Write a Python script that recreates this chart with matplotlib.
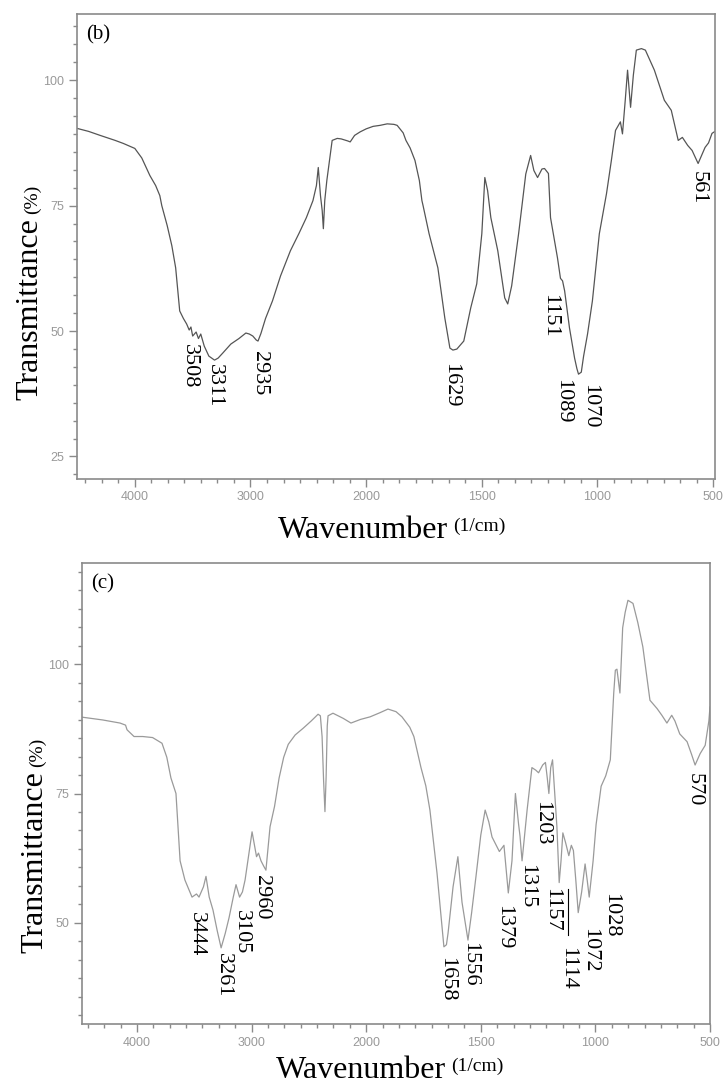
import numpy as np
import matplotlib
matplotlib.use('Agg')
import matplotlib.pyplot as plt
from matplotlib.ticker import FixedLocator, MultipleLocator, AutoMinorLocator

W, H = 725, 1086

# ---- spectrum (b) ----
wn_b = [4500, 4400, 4300, 4170, 4100, 4000, 3940, 3870, 3820, 3784, 3767, 3720,
        3680, 3647, 3612, 3580, 3552, 3530, 3515, 3500, 3470, 3450, 3430, 3400,
        3360, 3311, 3280, 3240, 3170, 3100, 3040, 3010, 2980, 2950, 2935, 2910,
        2870, 2810, 2740, 2655, 2580, 2517, 2460, 2430, 2414, 2395, 2380, 2370,
        2358, 2340, 2294, 2250, 2216, 2160, 2138, 2100, 2052, 2000, 1970, 1940,
        1909, 1880, 1866, 1840, 1828, 1810, 1789, 1770, 1759, 1754, 1728, 1690,
        1660, 1638, 1625, 1608, 1578, 1548, 1522, 1500, 1487, 1475, 1461, 1431,
        1401, 1388, 1371, 1341, 1310, 1289, 1275, 1259, 1240, 1229, 1212, 1203,
        1173, 1160, 1151, 1142, 1121, 1099, 1089, 1082, 1070, 1060, 1043, 1022,
        992, 961, 940, 922, 901, 892, 880, 870, 857, 845, 832, 810, 793, 754,
        711, 681, 651, 633, 610, 591, 565, 550, 535, 520, 505, 492]
t_b = [90.4, 89.8, 89.0, 88.0, 87.4, 86.4, 84.5, 81.0, 79.0, 77.0, 75.0, 71.0,
       67.0, 62.6, 54.0, 52.5, 51.4, 50.2, 50.8, 49.0, 49.8, 48.5, 49.4, 47.0,
       45.0, 44.2, 44.6, 45.6, 47.4, 48.5, 49.6, 49.4, 49.0, 48.2, 48.0, 49.5,
       52.5, 56.0, 61.0, 66.0, 69.5, 72.6, 76.0, 79.0, 82.6, 77.0, 74.0, 70.4,
       76.0, 80.0, 88.0, 88.4, 88.3, 87.9, 87.7, 89.0, 89.7, 90.3, 90.8, 91.0,
       91.3, 91.2, 91.0, 89.5, 88.0, 86.5, 84.0, 80.0, 76.0, 75.0, 69.4, 62.6,
       52.6, 46.6, 46.2, 46.4, 48.0, 54.6, 59.4, 69.4, 80.6, 78.0, 72.6, 66.0,
       56.6, 55.4, 59.0, 69.4, 81.3, 85.0, 82.0, 80.6, 82.3, 82.4, 81.4, 72.6,
       64.6, 60.5, 60.0, 58.0, 50.6, 44.6, 42.5, 41.4, 41.8, 45.0, 49.4, 56.0,
       69.4, 77.4, 84.0, 90.0, 91.7, 89.3, 96.0, 102.0, 94.6, 101.0, 106.0, 106.3,
       106.0, 102.0, 96.0, 94.0, 88.0, 88.6, 87.0, 86.0, 83.4, 85.0, 86.6, 87.5,
       89.4, 89.8]

# ---- spectrum (c) ----
wn_c = [4500, 4300, 4148, 4100, 4087, 4026, 3950, 3864, 3782, 3740, 3704, 3660,
        3624, 3582, 3520, 3481, 3459, 3420, 3398, 3370, 3337, 3300, 3266, 3230,
        3197, 3160, 3136, 3105, 3080, 3057, 3020, 2996, 2975, 2957, 2940, 2918,
        2895, 2875, 2839, 2800, 2760, 2720, 2680, 2620, 2550, 2480, 2420, 2400,
        2385, 2372, 2360, 2350, 2340, 2333, 2290, 2200, 2133, 2050, 1983, 1940,
        1905, 1870, 1844, 1810, 1792, 1761, 1740, 1722, 1691, 1661, 1650, 1643,
        1621, 1600, 1582, 1556, 1540, 1521, 1500, 1481, 1465, 1451, 1419, 1399,
        1380, 1364, 1349, 1335, 1329, 1320, 1298, 1277, 1260, 1248, 1230, 1218,
        1210, 1203, 1195, 1187, 1168, 1158, 1150, 1142, 1130, 1116, 1105, 1096,
        1085, 1075, 1060, 1045, 1035, 1027, 1010, 997, 975, 955, 935, 920, 913,
        906, 893, 881, 870, 858, 836, 815, 793, 762, 731, 710, 688, 667, 653, 632,
        600, 580, 565, 555, 543, 521, 505, 500]
t_c = [89.8, 89.2, 88.6, 88.2, 87.3, 86.0, 86.0, 85.8, 84.7, 82.0, 78.0, 75.0,
       62.0, 58.3, 55.0, 55.6, 55.0, 57.0, 59.0, 55.0, 52.5, 48.5, 45.2, 48.0,
       51.0, 55.0, 57.4, 55.0, 56.0, 58.3, 64.0, 67.6, 65.0, 62.8, 63.5, 62.0,
       61.0, 60.2, 68.6, 72.5, 78.0, 82.0, 84.5, 86.3, 87.6, 89.0, 90.3, 90.0,
       86.0, 77.6, 71.5, 78.0, 88.0, 90.0, 90.5, 89.5, 88.6, 89.3, 89.8, 90.6,
       91.3, 90.8, 89.8, 87.8, 86.0, 80.0, 76.5, 71.8, 59.6, 45.4, 45.8, 48.0,
       57.0, 62.8, 54.0, 46.7, 52.0, 59.0, 67.0, 71.8, 69.5, 66.6, 63.8, 65.0,
       55.8, 62.0, 75.0, 69.0, 66.8, 62.0, 71.8, 80.0, 79.5, 79.0, 80.5, 81.0,
       78.0, 75.0, 80.0, 81.5, 68.6, 57.8, 62.0, 67.4, 65.5, 63.0, 65.0, 64.0,
       58.0, 52.0, 56.0, 61.4, 58.0, 55.0, 62.0, 69.0, 76.4, 78.4, 81.5, 94.4, 98.8,
       99.0, 94.4, 107.0, 110.0, 112.3, 111.7, 108.0, 103.3, 93.0, 91.4, 90.1, 88.6,
       90.1, 89.0, 86.5, 85.0, 82.5, 80.5, 81.5, 82.7, 84.3, 89.0, 91.7]

# peak labels: text, wavenumber of label, transmittance at label top
peaks_b = ['3508', '3311', '2935', '1629', '1151', '1089', '1070', '561']
peak_wn_b = [3530, 3310, 2922, 1634, 1205, 1151, 1034, 565]
peak_t_b = [47.4, 43.4, 46.0, 43.6, 57.4, 40.4, 39.4, 82.0]

peaks_c = ['3444', '3261', '3105', '2960', '1658', '1556', '1379', '1315',
           '1203', '1157', '1114', '1072', '1028', '570']
peak_wn_c = [3480, 3250, 3092, 2918, 1651, 1551, 1400, 1298, 1233, 1191, 1120,
             1027, 934, 570]
peak_t_c = [52.1, 44.2, 52.5, 59.3, 43.4, 46.3, 53.5, 61.4, 73.6, 56.8, 45.4,
            49.1, 55.8, 79.0]

x_major = [4000, 3000, 2000, 1500, 1000, 500]
x_labels = ['4000', '3000', '2000', '1500', '1000', '500']


def fwd(x):
    x = np.asarray(x, dtype=float)
    return np.where(x > 2000, 2000 + (x - 2000) / 2, x)


def inv(u):
    u = np.asarray(u, dtype=float)
    return np.where(u > 2000, 2000 + (u - 2000) * 2, u)


def minor_ticks():
    ticks = []
    for a, b in zip(x_major[:-1], x_major[1:]):
        ticks += list(np.linspace(a, b, 8)[1:-1])
    ticks += [4000 + k * 1000 / 7 for k in range(1, 4)]
    return ticks


SERIF = 'Liberation Serif'
SANS = 'Liberation Sans'
GRAY = '#8a8a8a'

fig = plt.figure(figsize=(W / 100, H / 100), dpi=100)


def make_panel(rect, wn, t, xlim, ylim, color, tag, labels, lwn, lt):
    ax = fig.add_axes(rect)
    ax.set_xscale('function', functions=(fwd, inv))
    ax.plot(wn, t, color=color, lw=0.9)
    ax.set_xlim(*xlim)
    ax.set_ylim(*ylim)
    ax.xaxis.set_major_locator(FixedLocator(x_major))
    ax.set_xticklabels(x_labels)
    ax.xaxis.set_minor_locator(FixedLocator(minor_ticks()))
    ax.yaxis.set_major_locator(MultipleLocator(25))
    ax.yaxis.set_minor_locator(AutoMinorLocator(7))
    for s in ax.spines.values():
        s.set_color(GRAY)
        s.set_linewidth(1.2)
    ax.tick_params(which='major', direction='out', length=6, width=1,
                   color=GRAY, labelsize=9, labelcolor='#999999', pad=3)
    ax.tick_params(which='minor', direction='out', length=3, width=1, color=GRAY)
    for lab in ax.get_xticklabels() + ax.get_yticklabels():
        lab.set_family(SANS)
    ax.text(0.015, 0.955, tag, transform=ax.transAxes, va='center',
            ha='left', fontsize=15, family=SERIF)
    for s, x, y in zip(labels, lwn, lt):
        ax.text(x, y, s, rotation=-90, rotation_mode='anchor', ha='left',
                va='center', fontsize=16, family=SERIF)
    return ax


def axis_labels(xbase, xsplit, ybase, ytop_px):
    t1 = fig.text(xbase / W, 1 - ytop_px / H, 'Transmittance', rotation=90,
                  rotation_mode='anchor', ha='left', va='baseline',
                  fontsize=23, family=SERIF)
    plt.annotate('(%)', xy=(xbase / W, 1.0), xycoords=('figure fraction', t1),
                 xytext=(0, 4), textcoords='offset pixels', rotation=90,
                 rotation_mode='anchor', ha='left', va='baseline',
                 fontsize=14, family=SERIF, annotation_clip=False)
    t2 = fig.text(xsplit / W, 1 - ybase / H, 'Wavenumber', ha='right',
                  va='baseline', fontsize=23, family=SERIF)
    plt.annotate('(1/cm)', xy=(1.0, 1 - ybase / H), xycoords=(t2, 'figure fraction'),
                 xytext=(5, 7), textcoords='offset pixels', ha='left',
                 va='baseline', fontsize=14, family=SERIF, annotation_clip=False)


ax_b = make_panel([77 / W, 1 - 479 / H, 638 / W, 465 / H], wn_b, t_b,
                  (4500, 492), (20.5, 113.2), '#555555', '(b)',
                  peaks_b, peak_wn_b, peak_t_b)
axis_labels(37, 448, 538, 400)

ax_c = make_panel([82 / W, 1 - 1024 / H, 628 / W, 461 / H], wn_c, t_c,
                  (4480, 500), (30.5, 119.5), '#9a9a9a', '(c)',
                  peaks_c, peak_wn_c, peak_t_c)
ax_c.plot([1121, 1121], [56.5, 47.6], color='black', lw=0.8)
axis_labels(42, 446, 1078, 953)

fig.savefig('out.png', dpi=100)
